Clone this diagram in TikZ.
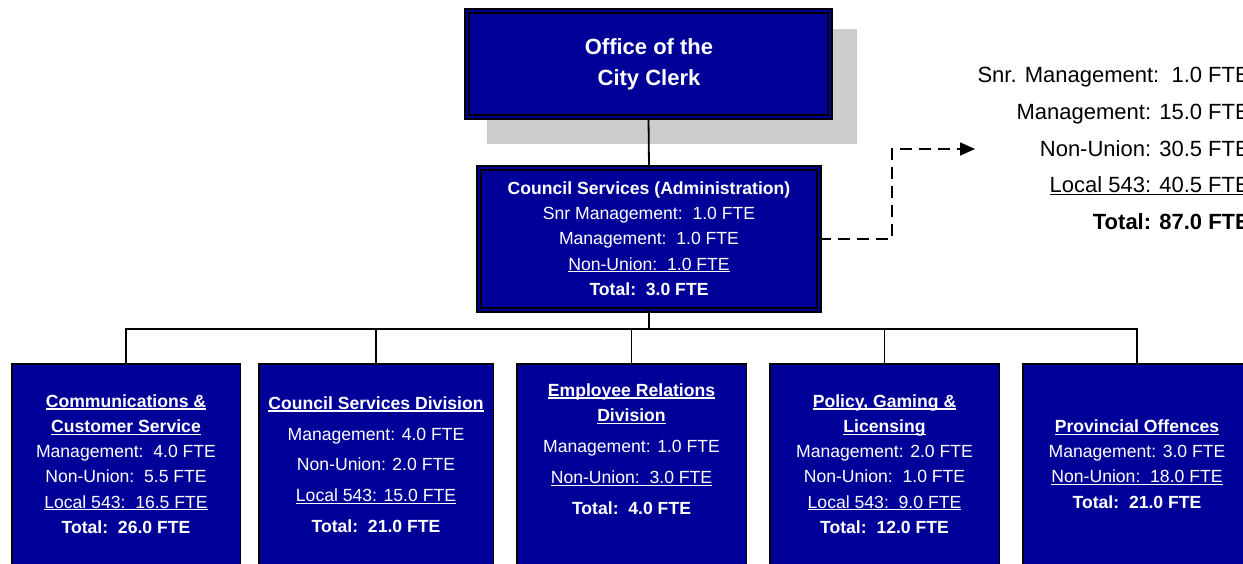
\documentclass[tikz,border=0pt]{standalone}
\usepackage{fontspec}
\setmainfont{Liberation Sans}
\usetikzlibrary{arrows.meta}
\definecolor{boxblue}{RGB}{0,0,153}
\definecolor{shadowgray}{RGB}{204,204,204}
% underline at a fixed depth, independent of descenders
\newcommand\ulbox[1]{\leavevmode\setbox0\hbox{#1}\rlap{\rule[-2.4pt]{\wd0}{1.2pt}}\box0}
\tikzset{
  x=1pt, y=-1pt,
  link/.style={draw=black, line width=1.8pt, line join=miter},
  headbox/.style={fill=boxblue, draw=black, line width=1.8pt, double=boxblue,
    double distance=2pt, inner sep=0pt, outer sep=0pt},
  unitbox/.style={fill=boxblue, draw=black, line width=1.5pt, inner sep=0pt,
    outer sep=0pt, minimum height=220pt, anchor=north},
  boxtext/.style={text=white, align=center, inner sep=0pt,
    font=\fontsize{17.6}{25.2}\selectfont},
}
\begin{document}
\begin{tikzpicture}
\clip (0,0) rectangle (1243,563);
\fill[white] (0,0) rectangle (1243,563);

% head office with its shadow
\fill[shadowgray] (487,29) rectangle (857,144);
\node[headbox, minimum width=363.4pt, minimum height=106.4pt] (office) at (648.5,64) {};
\node[boxtext, font=\fontsize{22}{31}\selectfont\bfseries, text depth=0pt] (officetxt) at (649,62.5)
  {Office of the\\City Clerk};

% administration
\node[headbox, minimum width=340.4pt, minimum height=142.4pt] (council) at (649,239) {};
\node[boxtext, font=\fontsize{17.6}{25.3}\selectfont] (counciltxt) at (649,238.5)
  {\textbf{Council Services (Administration)}\\
   Snr Management:\ \ 1.0 FTE\\
   Management:\ \ 1.0 FTE\\
   \ulbox{Non-Union:\ \ 1.0 FTE}\\
   \textbf{Total:\ \ 3.0 FTE}};

% department totals
\node[align=right, anchor=east, inner sep=0pt, font=\fontsize{22}{36.75}\selectfont] (totals) at (1250,148.5)
  {Snr. Management:\ \ 1.0 FTE\\
   Management: 15.0 FTE\\
   Non-Union: 30.5 FTE\\
   \ulbox{Local 543: 40.5 FTE}\\
   \textbf{Total: 87.0 FTE}};
\coordinate (totalsin) at (975,149);

% divisions
\node[unitbox, minimum width=228.5pt] (comm) at (126,363.75) {};
\node[unitbox, minimum width=234.5pt] (csd) at (376,363.75) {};
\node[unitbox, minimum width=229.5pt] (erd) at (631.5,363.75) {};
\node[unitbox, minimum width=229.5pt] (pgl) at (884.5,363.75) {};
\node[unitbox, minimum width=228.5pt] (pov) at (1137,363.75) {};

\node[boxtext] (commtxt) at (126,464)
  {\ulbox{\textbf{Communications \&}}\\
   \ulbox{\textbf{Customer Service}}\\
   Management:\ \ 4.0 FTE\\
   Non-Union:\ \ 5.5 FTE\\
   \ulbox{Local 543:\ \ 16.5 FTE}\\
   \textbf{Total:\ \ 26.0 FTE}};
\node[boxtext, font=\fontsize{17.6}{30.75}\selectfont] (csdtxt) at (376,464.5)
  {\ulbox{\textbf{Council Services Division}}\\
   Management: 4.0 FTE\\
   Non-Union: 2.0 FTE\\
   \ulbox{Local 543: 15.0 FTE}\\
   \textbf{Total:\ \ 21.0 FTE}};
\node[boxtext] (erdtxt) at (631.5,449)
  {\ulbox{\textbf{Employee Relations}}\\
   \ulbox{\textbf{Division}}\\[5.8pt]
   Management: 1.0 FTE\\[5.8pt]
   \ulbox{Non-Union:\ \ 3.0 FTE}\\[5.8pt]
   \textbf{Total:\ \ 4.0 FTE}};
\node[boxtext] (pgltxt) at (884.5,464)
  {\ulbox{\textbf{Policy, Gaming \&}}\\
   \ulbox{\textbf{Licensing}}\\
   Management: 2.0 FTE\\
   Non-Union:\ \ 1.0 FTE\\
   \ulbox{Local 543:\ \ 9.0 FTE}\\
   \textbf{Total:\ \ 12.0 FTE}};
\node[boxtext] (povtxt) at (1137,464)
  {\ulbox{\textbf{Provincial Offences}}\\
   Management: 3.0 FTE\\
   \ulbox{Non-Union:\ \ 18.0 FTE}\\
   \textbf{Total:\ \ 21.0 FTE}};

% reporting lines
\coordinate (bar) at (649,329);
\draw[link] (office.south) -- (council.north);
\draw[link] (council.south) -- (bar);
\draw[link] (bar) -| (comm.north);
\draw[link] (bar) -| (csd.north);
\draw[link] (bar) -| (erd.north);
\draw[link] (bar) -| (pgl.north);
\draw[link] (bar) -| (pov.north);

% dashed pointer to the department totals
\draw[link, dash pattern=on 12pt off 7pt, -{Triangle[length=15pt,width=13pt]}]
  (council.east) -- ++(73,0) |- (totalsin);
\end{tikzpicture}
\end{document}
